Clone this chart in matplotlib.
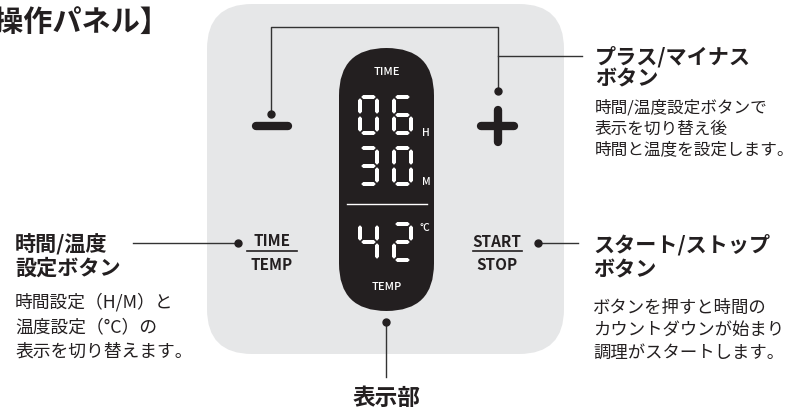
import matplotlib.pyplot as plt
from matplotlib.patches import FancyBboxPatch, Polygon
import numpy as np

plt.rcParams['font.family'] = ['Noto Sans CJK JP', 'DejaVu Sans']

INK = '#231f20'
GRAY = '#e6e7e8'

# display contents
time_hours = '06'
time_minutes = '30'
temp_value = '42'

# labels
title = '【操作パネル】'
left_head = ['時間/温度', '設定ボタン']
left_desc = ['時間設定（H/M）と', '温度設定（°C）の', '表示を切り替えます。']
plus_head = ['プラス/マイナス', 'ボタン']
plus_desc = ['時間/温度設定ボタンで', '表示を切り替え後', '時間と温度を設定します。']
start_head = ['スタート/ストップ', 'ボタン']
start_desc = ['ボタンを押すと時間の', 'カウントダウンが始まり', '調理がスタートします。']
bottom_label = '表示部'

# seven segment table
SEGS = {'0': 'abcdef', '1': 'bc', '2': 'abged', '3': 'abgcd', '4': 'fgbc',
        '5': 'afgcd', '6': 'afgedc', '7': 'abc', '8': 'abcdefg', '9': 'abcdfg'}


def seg_poly(p1, p2, t, g):
    p1 = np.array(p1, float)
    p2 = np.array(p2, float)
    u = (p2 - p1) / np.linalg.norm(p2 - p1)
    n = np.array([-u[1], u[0]])
    a = p1 + u * g
    b = p2 - u * g
    h = t / 2
    return [a, a + u * h + n * h, b - u * h + n * h, b, b - u * h - n * h, a + u * h - n * h]


def draw_digit(ax, ch, x0, y0, w=21, h=40, t=4, g=1.2):
    L, R = x0 + t / 2, x0 + w - t / 2
    T, B = y0 + t / 2, y0 + h - t / 2
    M = (T + B) / 2
    ends = {'a': ((L, T), (R, T)), 'b': ((R, T), (R, M)), 'c': ((R, M), (R, B)),
            'd': ((L, B), (R, B)), 'e': ((L, M), (L, B)), 'f': ((L, T), (L, M)),
            'g': ((L, M), (R, M))}
    for s in SEGS[ch]:
        ax.add_patch(Polygon(seg_poly(*ends[s], t, g), closed=True, fc='white', ec='none'))


def draw_number(ax, s, x0, y0):
    for i, ch in enumerate(s):
        draw_digit(ax, ch, x0 + i * 34, y0)


fig = plt.figure(figsize=(8, 4.1), dpi=100)
ax = fig.add_axes([0, 0, 1, 1])
ax.set_xlim(0, 800)
ax.set_ylim(410, 0)
ax.axis('off')

# panel and display
ax.add_patch(FancyBboxPatch((207, 5), 357, 350, boxstyle='round,pad=0,rounding_size=45',
                            fc=GRAY, ec='none'))
ax.add_patch(FancyBboxPatch((339, 49), 95, 263, boxstyle='round,pad=0,rounding_size=47.5',
                            fc=INK, ec='none'))

ax.text(386.5, 72, 'TIME', color='white', fontsize=8, fontweight='medium', ha='center', va='center')
ax.text(386.5, 287, 'TEMP', color='white', fontsize=8, fontweight='medium', ha='center', va='center')
draw_number(ax, time_hours, 358, 96)
draw_number(ax, time_minutes, 358, 147)
draw_number(ax, temp_value, 358, 223)
ax.text(426, 133, 'H', color='white', fontsize=7.5, fontweight='medium', ha='center', va='center')
ax.text(426, 182, 'M', color='white', fontsize=7.5, fontweight='medium', ha='center', va='center')
ax.text(425, 228, '°C', color='white', fontsize=7.5, fontweight='medium', ha='center', va='center')
ax.plot([347, 427], [205, 205], color='white', lw=1)

# plus / minus buttons
ax.plot([256, 288], [127, 127], color=INK, lw=6, solid_capstyle='round')
ax.plot([481, 514], [127, 127], color=INK, lw=6, solid_capstyle='round')
ax.plot([498, 498], [111, 143], color=INK, lw=6, solid_capstyle='round')

# leader lines
lc = '#333333'
ax.plot([271, 271, 498, 498], [115, 28, 28, 92], color=lc, lw=1)
ax.plot([498, 582], [57, 57], color=lc, lw=1)
ax.plot([133, 238], [244, 244], color=lc, lw=1)
ax.plot([538, 578], [244, 244], color=lc, lw=1)
ax.plot([386, 386], [323, 378], color=lc, lw=1)
ax.plot([271, 498, 238, 538, 386], [115, 92, 244, 244, 323], 'o', color=INK, ms=5)

# button labels
ax.text(272, 241, 'TIME', color=INK, fontsize=11, fontweight='bold', ha='center', va='center')
ax.text(272, 265, 'TEMP', color=INK, fontsize=11, fontweight='bold', ha='center', va='center')
ax.plot([247, 297], [252, 252], color=INK, lw=1.2)
ax.text(497, 242, 'START', color=INK, fontsize=11, fontweight='bold', ha='center', va='center')
ax.text(497, 265, 'STOP', color=INK, fontsize=11, fontweight='bold', ha='center', va='center')
ax.plot([473, 522], [252, 252], color=INK, lw=1.2)

# callout texts
ax.text(170, 22, title, color=INK, fontsize=21, fontweight='bold', ha='right', va='center')


def block(x, heads, hy, descs, dy, dsize):
    for s, y in zip(heads, hy):
        ax.text(x, y, s, color=INK, fontsize=15.2, fontweight='bold', ha='left', va='center')
    for s, y in zip(descs, dy):
        ax.text(x, y, s, color=INK, fontsize=dsize, ha='left', va='center')


block(15, left_head, [245, 268], left_desc, [302, 327, 352], 12.8)
block(595, plus_head, [57, 79], plus_desc, [108, 129, 150], 12.0)
block(593, start_head, [245, 270], start_desc, [308, 330, 353], 12.5)
ax.text(387, 398, bottom_label, color=INK, fontsize=16.3, fontweight='bold', ha='center', va='center')

fig.savefig('out.png', dpi=100)
